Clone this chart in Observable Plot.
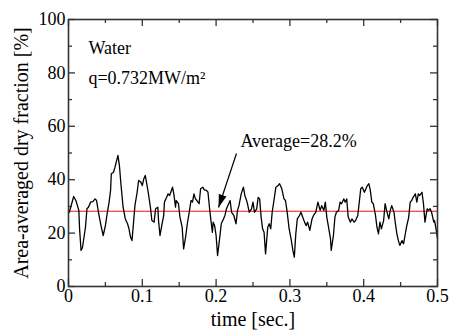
<!DOCTYPE html>
<html><head><meta charset="utf-8">
<script src="https://cdn.jsdelivr.net/npm/d3@7"></script>
<script src="https://cdn.jsdelivr.net/npm/@observablehq/plot@0.6"></script>
<style>body{margin:0;background:#fff}</style>
</head><body><div id="chart"></div>
<script>
// time [sec.]
const time = [0.001,0.003,0.007,0.010,0.014,0.015,0.017,0.019,0.023,0.025,0.027,0.030,0.033,0.036,0.038,0.041,0.044,0.047,0.050,0.052,0.055,0.057,0.058,0.061,0.063,0.067,0.069,0.071,0.074,0.077,0.080,0.082,0.084,0.086,0.088,0.090,0.093,0.095,0.098,0.100,
0.102,0.104,0.106,0.108,0.111,0.113,0.116,0.118,0.121,0.122,0.124,0.126,0.129,0.130,0.133,0.135,0.137,0.141,0.143,0.145,0.146,0.149,0.151,0.154,0.156,0.159,0.161,0.164,0.166,0.168,0.170,0.172,0.174,0.177,0.179,0.182,0.184,0.187,0.189,0.191,0.193,0.195,0.196,0.198,0.200,0.202,
0.205,0.207,0.210,0.212,0.214,0.216,0.219,0.221,0.224,0.227,0.229,0.231,0.234,0.237,0.239,0.242,0.245,0.248,0.250,0.252,0.255,0.257,0.259,0.261,0.263,0.265,0.267,0.270,0.272,0.274,0.276,0.279,0.281,0.284,0.286,0.289,0.292,0.294,0.296,0.299,0.302,0.304,0.306,
0.308,0.310,0.313,0.315,0.319,0.322,0.324,0.327,0.330,0.332,0.335,0.338,0.341,0.343,0.346,0.348,0.350,0.352,0.355,0.356,0.359,0.361,0.363,0.366,0.368,0.370,0.373,0.375,0.377,0.379,0.382,0.384,0.387,0.389,0.392,0.394,0.396,0.398,0.401,0.403,0.405,0.407,
0.409,0.411,0.413,0.416,0.418,0.420,0.422,0.424,0.427,0.429,0.431,0.434,0.436,0.438,0.441,0.443,0.445,0.447,0.449,0.452,0.454,0.456,0.458,0.461,0.463,0.465,0.467,0.470,0.472,0.474,0.476,0.479,0.481,0.483,0.486,0.488,0.490,0.492,0.495,0.496,0.498,0.500];
// Area-averaged dry fraction [%]
const fraction = [27.8,29.7,33.7,32.2,28.5,21.7,13.5,14.7,22.2,29.1,29.7,31.6,31.8,32.8,32.2,27.2,22.8,19.1,22.8,26.6,31.6,36.0,42.2,42.8,44.7,49.1,45.3,38.5,29.7,25.3,23.5,21.6,18.5,17.2,23.5,30.3,35.3,39.7,39.1,37.8,
40.3,41.6,38.5,35.3,29.7,24.7,24.1,29.1,29.7,24.7,19.1,22.2,26.6,31.6,33.4,34.7,34.1,37.2,34.1,29.7,32.2,31.0,26.0,22.2,14.1,19.1,23.5,28.5,32.2,31.6,34.7,32.8,32.2,31.0,36.6,37.2,36.2,36.0,35.3,29.7,24.7,20.3,24.1,22.8,19.1,11.6,
18.5,23.5,25.3,26.6,29.1,30.3,32.2,27.8,26.6,23.5,28.5,30.3,34.7,37.2,34.1,31.6,27.8,29.1,31.6,27.8,29.1,33.4,32.8,26.0,21.6,20.3,12.2,22.2,23.5,21.6,27.8,33.4,37.2,37.8,38.5,36.6,32.8,32.2,28.5,21.6,17.2,13.5,11.0,
19.7,25.3,26.6,27.8,24.7,22.8,24.1,21.0,25.3,26.6,27.8,31.6,28.5,30.3,28.5,31.6,26.0,22.8,17.9,13.5,19.1,26.0,27.8,28.5,31.6,31.0,32.8,31.6,32.8,26.0,24.1,25.3,24.1,24.7,26.6,31.6,36.6,37.2,35.3,36.6,37.8,38.5,
36.0,31.6,31.0,26.6,22.2,19.7,24.1,21.6,24.7,31.0,28.5,25.3,28.5,30.3,27.8,23.5,19.7,17.2,15.4,17.2,16.0,19.1,22.2,26.0,31.6,32.2,33.4,34.7,31.6,34.7,34.1,35.3,31.0,24.1,29.1,28.5,29.1,27.8,24.1,24.7,21.6,17.9];
const average = 28.2;
const xTicks = [0, 0.1, 0.2, 0.3, 0.4, 0.5];
const xMinor = [0.05, 0.15, 0.25, 0.35, 0.45];
const yTicks = [0, 20, 40, 60, 80, 100];
const yMinor = [10, 30, 50, 70, 90];
const xTitle = "time [sec.]";
const yTitle = "Area-averaged dry fraction [%]";
const noteTexts = ["Water", "q=0.732MW/m²", "Average=28.2%"];
const noteT = [0.027, 0.027, 0.233];
const noteV = [87.1, 76.0, 52.4];
const arrowT = [0.2276, 0.2033];
const arrowV = [49.8, 29.6];

const data = time.map((t, i) => ({t, v: fraction[i]}));
const notes = noteTexts.map((text, i) => ({text, t: noteT[i], v: noteV[i]}));

const W = 450, H = 334, mL = 68, mR = 13, mT = 19, mB = 48;
const pw = W - mL - mR, ph = H - mT - mB;
const axisColor = "#333";
const font = "Liberation Serif";

function filledArrow(color) {
  const ns = "http://www.w3.org/2000/svg";
  const m = document.createElementNS(ns, "marker");
  m.setAttribute("viewBox", "-13 -5 13 10");
  m.setAttribute("markerWidth", 13);
  m.setAttribute("markerHeight", 10);
  m.setAttribute("markerUnits", "userSpaceOnUse");
  m.setAttribute("orient", "auto");
  m.setAttribute("refX", 0);
  m.setAttribute("refY", 0);
  const p = document.createElementNS(ns, "path");
  p.setAttribute("d", "M-13,-4L0,0L-13,4Z");
  p.setAttribute("fill", "black");
  p.setAttribute("stroke", "none");
  m.appendChild(p);
  return m;
}

const plot = Plot.plot({
  width: W, height: H,
  marginLeft: mL, marginRight: mR, marginTop: mT, marginBottom: mB,
  style: {fontFamily: font, fontSize: "18px", color: "black", background: "white", overflow: "visible"},
  x: {domain: [0, 0.5]},
  y: {domain: [0, 100]},
  marks: [
    Plot.ruleY([average], {stroke: "#ee1111", strokeWidth: 1.1}),
    Plot.line(data, {x: "t", y: "v", stroke: "black", strokeWidth: 1.3}),
    Plot.link([{}], {x1: () => arrowT[0], y1: () => arrowV[0], x2: () => arrowT[1], y2: () => arrowV[1], stroke: "black", strokeWidth: 1.2, markerEnd: filledArrow}),
    // inward ticks
    Plot.tickY(yTicks, {y: d => d, insetRight: pw - 7, stroke: axisColor, strokeWidth: 1.3}),
    Plot.tickY(yMinor, {y: d => d, insetRight: pw - 4, stroke: axisColor, strokeWidth: 1.3}),
    Plot.tickY(yTicks, {y: d => d, insetLeft: pw - 7, stroke: axisColor, strokeWidth: 1.3}),
    Plot.tickY(yMinor, {y: d => d, insetLeft: pw - 4, stroke: axisColor, strokeWidth: 1.3}),
    Plot.tickX(xTicks, {x: d => d, insetTop: ph - 7, stroke: axisColor, strokeWidth: 1.3}),
    Plot.tickX(xMinor, {x: d => d, insetTop: ph - 4, stroke: axisColor, strokeWidth: 1.3}),
    Plot.tickX(xTicks, {x: d => d, insetBottom: ph - 7, stroke: axisColor, strokeWidth: 1.3}),
    Plot.tickX(xMinor, {x: d => d, insetBottom: ph - 4, stroke: axisColor, strokeWidth: 1.3}),
    Plot.frame({stroke: axisColor, strokeWidth: 1.6}),
    Plot.axisX({ticks: xTicks, tickSize: 0, tickPadding: 3, tickFormat: d => String(d), fontSize: 18, fontFamily: font, label: null}),
    Plot.axisY({ticks: yTicks, tickSize: 0, tickPadding: 3, tickFormat: d => String(d), fontSize: 18, fontFamily: font, label: null}),
    Plot.text([xTitle], {frameAnchor: "bottom", text: d => d, dy: 39, textAnchor: "middle", lineAnchor: "bottom", fontSize: 20, fontFamily: font, fill: "black"}),
    Plot.text([yTitle], {frameAnchor: "left", text: d => d, rotate: -90, dx: -47, textAnchor: "middle", lineAnchor: "middle", fontSize: 20, fontFamily: font, fill: "black"}),
    Plot.text(notes, {x: "t", y: "v", text: "text", textAnchor: "start", lineAnchor: "bottom", fontSize: 18, fontFamily: font, fill: "black"})
  ]
});
document.getElementById("chart").appendChild(plot);
</script>
</body></html>
